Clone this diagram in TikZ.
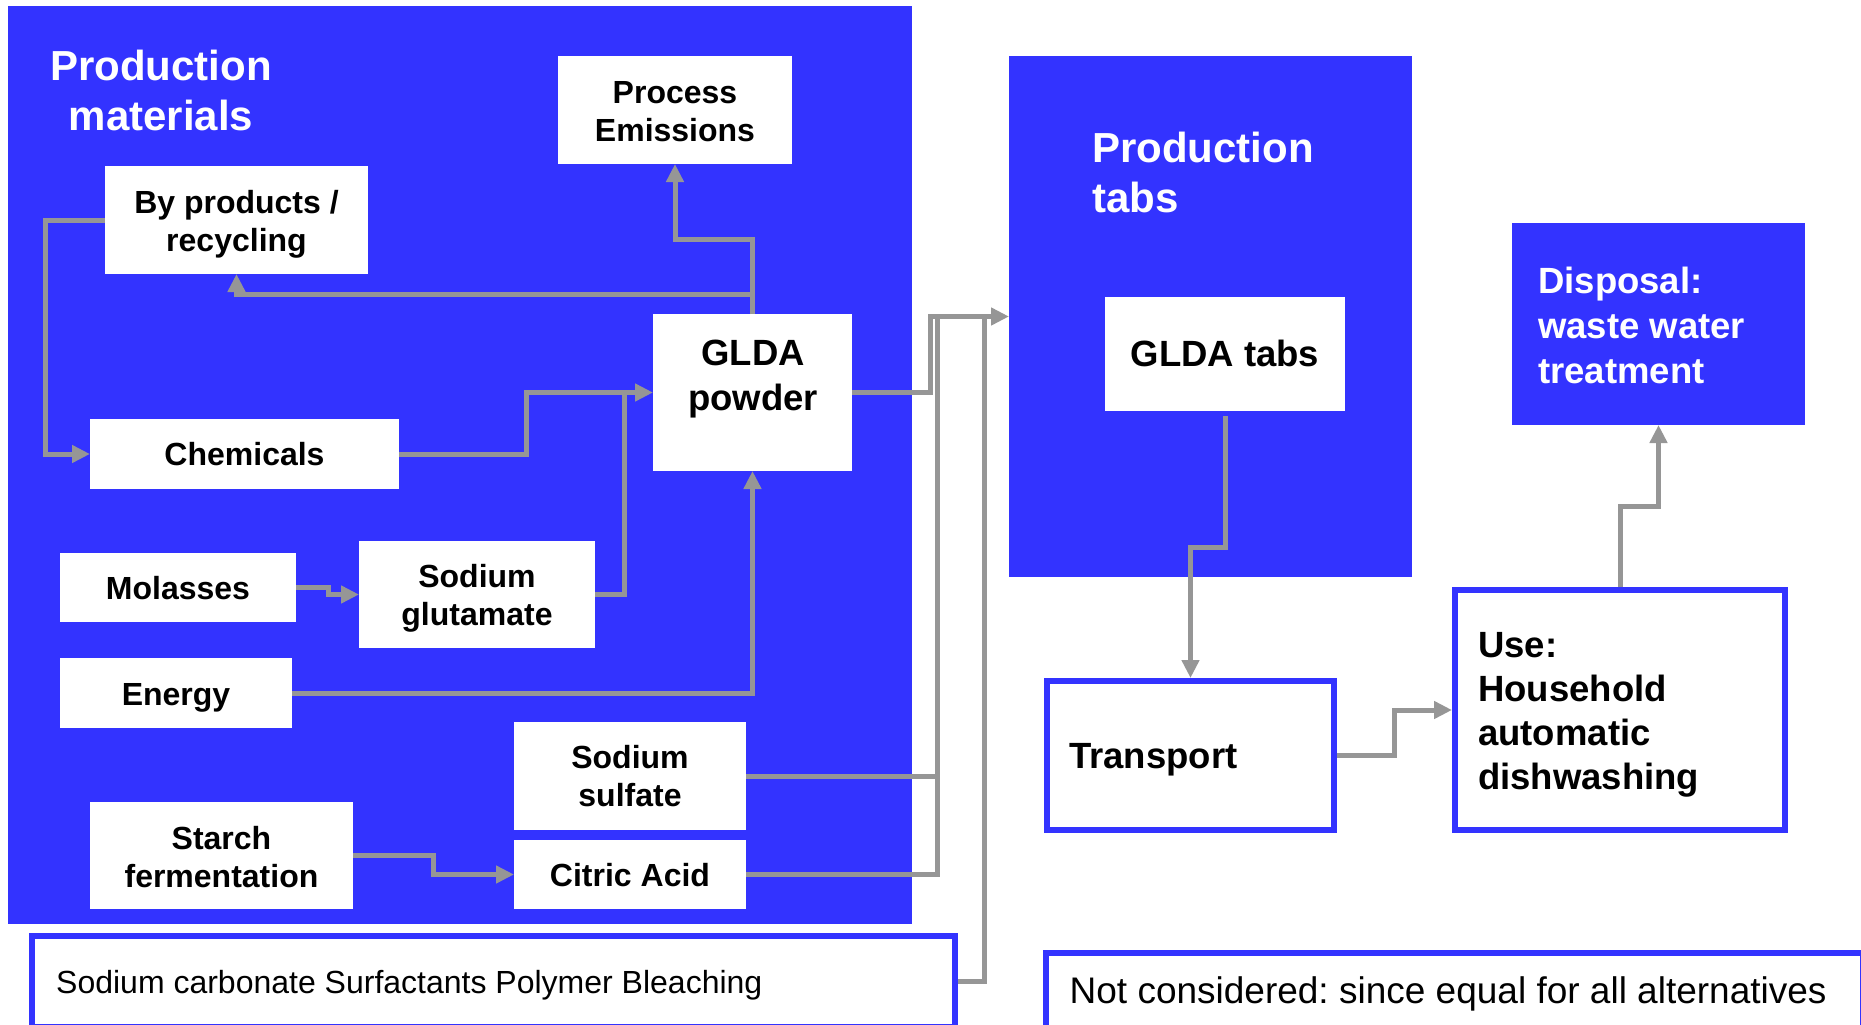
\documentclass[tikz,border=0pt]{standalone}
\usepackage{fontspec}
\setmainfont{Liberation Sans}
\usetikzlibrary{arrows.meta,calc}
\definecolor{pblue}{RGB}{51,51,255}
\definecolor{lgray}{RGB}{150,150,150}
\newcommand\mlc[1]{\begin{tabular}[t]{@{}c@{}}#1\end{tabular}}
\newcommand\mll[1]{\begin{tabular}[t]{@{}l@{}}#1\end{tabular}}
\begin{document}
\frenchspacing
\begin{tikzpicture}[x=1pt,y=-1pt,
  wbx/.style={fill=white, inner sep=0pt, outer sep=0pt},
  bbx/.style={fill=pblue, inner sep=0pt, outer sep=0pt},
  fbx/.style={fill=white, draw=pblue, line width=6pt, outer sep=3pt, inner sep=0pt},
  tx/.style={inner sep=0pt, anchor=base, font=\bfseries\fontsize{32}{38}\selectfont},
  txl/.style={tx, anchor=base west},
  tbig/.style={font=\bfseries\fontsize{36.5}{45}\selectfont},
  tuse/.style={font=\bfseries\fontsize{36.5}{44.3}\selectfont},
  ttl/.style={inner sep=0pt, text=white, font=\bfseries\fontsize{42}{50}\selectfont},
  ln/.style={draw=lgray, line width=5pt},
  arr/.style={ln, -{Triangle[length=18pt,width=17pt]}},
]
\useasboundingbox (0,0) rectangle (1861,1025);
\clip (0,0) rectangle (1861,1025);

% large blue areas
\node[bbx, minimum width=904pt, minimum height=918pt] (mat) at (460,465) {};
\node[ttl, anchor=base] (mattl) at (161,81) {\mlc{Production\\materials}};
\node[bbx, minimum width=403pt, minimum height=521pt] (ptabs) at (1210.5,316.5) {};
\node[ttl, anchor=base west] (ptabstl) at (1092,162) {\mll{Production\\tabs}};
\node[bbx, minimum width=293pt, minimum height=202pt] (disp) at (1658.5,324) {};
\node[txl, tbig, text=white] (dispt) at (1538,293) {\mll{Disposal:\\waste water\\treatment}};

% white boxes
\node[wbx, minimum width=234pt, minimum height=108pt] (proc) at (675,110) {};
\node[tx] (proct) at (675,103) {\mlc{Process\\Emissions}};
\node[wbx, minimum width=263pt, minimum height=108pt] (byp) at (236.5,220) {};
\node[tx] (bypt) at (236.5,213) {\mlc{By products /\\recycling}};
\node[wbx, minimum width=309pt, minimum height=70pt] (chem) at (244.5,454) {};
\node[tx] (chemt) at (244.5,465) {Chemicals};
\node[wbx, minimum width=199pt, minimum height=157pt] (glda) at (752.5,392.5) {};
\node[tx, tbig] (gldat) at (753,365) {\mlc{GLDA\\powder}};
\node[wbx, minimum width=236pt, minimum height=69pt] (mol) at (178,587.5) {};
\node[tx] (molt) at (178,599) {Molasses};
\node[wbx, minimum width=236pt, minimum height=107pt] (glut) at (477,594.5) {};
\node[tx] (glutt) at (477,587.7) {\mlc{Sodium\\glutamate}};
\node[wbx, minimum width=232pt, minimum height=70pt] (energy) at (176,693) {};
\node[tx] (energyt) at (176,705) {Energy};
\node[wbx, minimum width=232pt, minimum height=108pt] (sulf) at (630,776) {};
\node[tx] (sulft) at (630,768.3) {\mlc{Sodium\\sulfate}};
\node[wbx, minimum width=232pt, minimum height=69pt] (citric) at (630,874.5) {};
\node[tx] (citrict) at (630,886.5) {Citric Acid};
\node[wbx, minimum width=263pt, minimum height=107pt] (starch) at (221.5,855.5) {};
\node[tx] (starcht) at (221.5,849.3) {\mlc{Starch\\fermentation}};
\node[wbx, minimum width=240pt, minimum height=114pt] (gtabs) at (1225,354) {};
\node[tx, tbig] (gtabst) at (1225,366.5) {GLDA tabs};

% framed boxes
\node[fbx, minimum width=287pt, minimum height=149pt] (trans) at (1190.5,755.5) {};
\node[txl, tbig] (transt) at (1069,768) {Transport};
\node[fbx, minimum width=330pt, minimum height=240pt] (use) at (1620,710) {};
\node[txl, tuse] (uset) at (1478,657) {\mll{Use:\\Household\\automatic\\dishwashing}};
\node[fbx, minimum width=923pt, minimum height=91pt] (carb) at (493.5,981.5) {};
\node[txl, font=\fontsize{32}{38}\selectfont] (carbt) at (56,993) {Sodium carbonate Surfactants Polymer Bleaching};
\node[fbx, minimum width=817pt, minimum height=75pt] (notc) at (1454.5,990.5) {};
\node[txl, font=\fontsize{37}{44}\selectfont] (notct) at (1069.5,1003) {Not considered: since equal for all alternatives};

% connectors
\draw[arr] (glda.north) -- (glda.north |- 0,239) -| (proc.south);
\draw[arr] (glda.north |- 0,294) -| (byp.south);
\draw[arr] (byp.west) -- ++(-60,0) |- (chem.west);
\draw[arr] (chem.east) -- ++(127,0) |- (glda.west);
\draw[ln] (glut.east) -| ($(glda.west)+(-29,0)$);
\draw[arr] (mol.east) -- ++(32,0) |- (glut.west);
\draw[arr] (energy.east) -| (glda.south);
\draw[arr] (starch.east) -- ++(80,0) |- (citric.west);
\draw[ln] (sulf.east) -| ($(ptabs.west)+(-72,0)$);
\draw[ln] (citric.east) -| ($(ptabs.west)+(-72,0)$);
\draw[ln] (carb.east) -| ($(ptabs.west)+(-25,0)$);
\draw[arr] (glda.east) -- ++(78,0) |- (ptabs.west);
\draw[arr, shorten <=5pt] (gtabs.south) -- (gtabs.south |- 0,547) -| (trans.north);
\draw[arr] (trans.east) -- ++(57,0) |- (use.west);
\draw[arr] (use.north) -- ++(0,-81) -| (disp.south);
\end{tikzpicture}
\end{document}
